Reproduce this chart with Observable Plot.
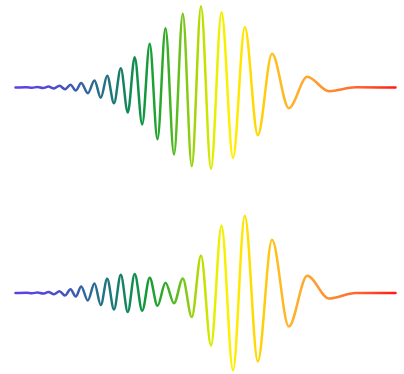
<!DOCTYPE html>
<html>
<head>
<meta charset="utf-8">
<script src="https://cdn.jsdelivr.net/npm/d3@7"></script>
<script src="https://cdn.jsdelivr.net/npm/@observablehq/plot@0.6"></script>
<style>
  html, body { margin: 0; padding: 0; background: #fff; }
  #chart svg { display: block; }
</style>
</head>
<body>
<div id="chart"></div>
<script>
// Time positions of the extrema (shared by both waveforms)
const times = [15, 26, 31.5, 37, 42.5, 48, 53.5, 59, 64.5, 70, 75.3, 80.7, 87.3, 94, 100.3, 106.7, 113.5, 120.3, 127.3, 134.2, 141.7, 149.2, 157, 165, 173.5, 182.3, 191.3, 200.5, 210.5, 221, 232.5, 244.3, 257.3, 271.5, 288.3, 306.7, 328.5, 355, 395];
// Strain of the upper waveform at those times
const upperStrain = [0, 0.3, -0.3, 0.5, -0.5, 0.9, -1.0, 1.8, -1.8, 2.8, -3.0, 4.5, -5.7, 7, -10.3, 11.7, -15.7, 19.3, -25, 30.3, -37, 43.7, -51.7, 59.3, -67, 73.7, -78.7, 81.3, -81.3, 75.3, -70.3, 60.3, -47.7, 33.7, -20.7, 10.7, -3.7, 0.2, 0];
// Strain of the lower waveform at those times
const lowerStrain = [0, 0.3, -0.3, 0.5, -0.6, 1.0, -1.2, 1.8, -2.5, 3.8, -3.5, 6.5, -7.5, 9.5, -12, 14.3, -16.5, 18.2, -19, 19, -17.7, 15.3, -12.8, 10.3, -10.3, 14.5, -24, 37.5, -52.5, 67.3, -77.3, 77.3, -68.5, 53.2, -33.5, 17.3, -5.5, 0, 0];

const gradientColors = ["#5f3ff0", "#4a50c4", "#2d6a98", "#1a7a72", "#0c9442", "#30ac28", "#80c818", "#b8dc00", "#e8f000", "#fff000", "#ffd800", "#ffbe20", "#ffa830", "#ff8c30", "#ff6030", "#ff1a10"];
const gradientAt = [15, 60, 90, 115, 140, 165, 185, 200, 215, 230, 255, 275, 305, 330, 360, 395];

function wave(strain, id, height, yDomain) {
  const data = times.map((t, i) => ({t, h: strain[i]}));
  const chart = Plot.plot({
    width: 404,
    height,
    margin: 0,
    x: {domain: [0, 404], axis: null},
    y: {domain: yDomain, axis: null},
    marks: [
      Plot.line(data, {x: "t", y: "h", curve: "monotone-x", stroke: `url(#${id})`, strokeWidth: 2.5})
    ]
  });
  const xs = chart.scale("x");
  const ns = "http://www.w3.org/2000/svg";
  const defs = document.createElementNS(ns, "defs");
  const grad = document.createElementNS(ns, "linearGradient");
  grad.setAttribute("id", id);
  grad.setAttribute("gradientUnits", "userSpaceOnUse");
  grad.setAttribute("x1", xs.apply(gradientAt[0]));
  grad.setAttribute("x2", xs.apply(gradientAt[gradientAt.length - 1]));
  grad.setAttribute("y1", 0);
  grad.setAttribute("y2", 0);
  const span = gradientAt[gradientAt.length - 1] - gradientAt[0];
  gradientColors.forEach((c, i) => {
    const s = document.createElementNS(ns, "stop");
    s.setAttribute("offset", (gradientAt[i] - gradientAt[0]) / span);
    s.setAttribute("stop-color", c);
    grad.appendChild(s);
  });
  defs.appendChild(grad);
  chart.insertBefore(defs, chart.firstChild);
  return chart;
}

const root = document.getElementById("chart");
root.appendChild(wave(upperStrain, "grad-upper", 174, [-87, 87]));
root.appendChild(wave(lowerStrain, "grad-lower", 200, [-81.5, 118.5]));
</script>
</body>
</html>
